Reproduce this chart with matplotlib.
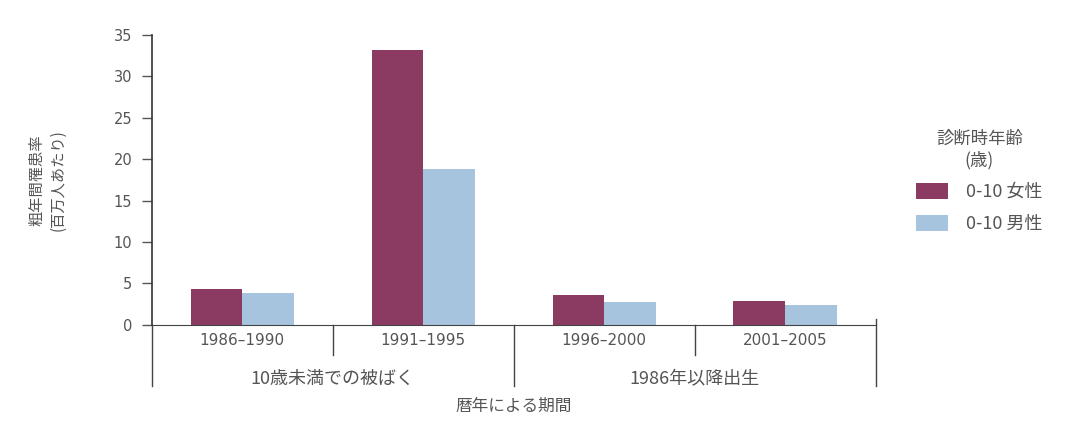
import matplotlib
matplotlib.use("Agg")
import matplotlib.pyplot as plt
import numpy as np

# data
periods = ["1986–1990", "1991–1995", "1996–2000", "2001–2005"]
female = [4.3, 33.2, 3.6, 2.9]
male = [3.8, 18.8, 2.8, 2.4]
groups = ["10歳未満での被ばく", "1986年以降出生"]
series_labels = ["0-10 女性", "0-10 男性"]

plt.rcParams['font.family'] = ['DejaVu Sans', 'Noto Sans CJK JP']
jp = ['Noto Sans CJK JP', 'DejaVu Sans']
grey = "#555555"
c_female = "#8b3a62"
c_male = "#a6c4de"

fig = plt.figure(figsize=(10.69, 4.28), dpi=100)
ax = fig.add_axes([0.142, 0.241, 0.677, 0.677])

x = np.arange(len(periods))
w = 0.285
ax.bar(x - w / 2, female, w, color=c_female, label=series_labels[0])
ax.bar(x + w / 2, male, w, color=c_male, label=series_labels[1])

ax.set_xlim(-0.5, 3.5)
ax.set_ylim(0, 35)
ax.set_yticks(range(0, 36, 5))
ax.tick_params(axis='y', colors=grey, labelsize=10.5, length=7, width=1, pad=7)
ax.set_xticks(x)
ax.set_xticklabels(periods)
ax.tick_params(axis='x', length=0, pad=6, labelsize=11, labelcolor=grey)

for s in ["top", "right"]:
    ax.spines[s].set_visible(False)
ax.spines["left"].set_color("#333333")
ax.spines["bottom"].set_color("#444444")
ax.spines["left"].set_linewidth(1.2)

# dividers below the axis
tr = ax.get_xaxis_transform()
for xv in [0.5, 2.5]:
    ax.plot([xv, xv], [0.0, -0.105], transform=tr, color="#444444", lw=1, clip_on=False)
for xv in [-0.5, 1.5, 3.5]:
    ax.plot([xv, xv], [0.02 if xv > 3 else 0.0, -0.21], transform=tr, color="#444444", lw=1, clip_on=False)

# group labels
ax.text(0.5, -0.185, groups[0], transform=tr, ha='center', va='center', color=grey, fontsize=13, family=jp)
ax.text(2.5, -0.185, groups[1], transform=tr, ha='center', va='center', color=grey, fontsize=13, family=jp)
ax.text(1.5, -0.28, "暦年による期間", transform=tr, ha='center', va='center', color=grey, fontsize=12, family=jp)

ax.set_ylabel("粗年間罹患率\n(百万人あたり)", color=grey, fontsize=11, linespacing=1.3, family=jp)
ax.yaxis.set_label_coords(-0.118, 0.5)

leg = ax.legend(loc='upper left', bbox_to_anchor=(1.034, 0.73), frameon=False,
                title="診断時年齢\n(歳)", handlelength=1.75, handleheight=1.05,
                labelspacing=0.75, handletextpad=1.0, prop={'family': jp, 'size': 13})
leg.get_title().set_color(grey)
leg.get_title().set_fontsize(12.5)
leg.get_title().set_family(jp)
leg.get_title().set_multialignment('center')
for t in leg.get_texts():
    t.set_color(grey)

fig.savefig("out.png", dpi=100)
